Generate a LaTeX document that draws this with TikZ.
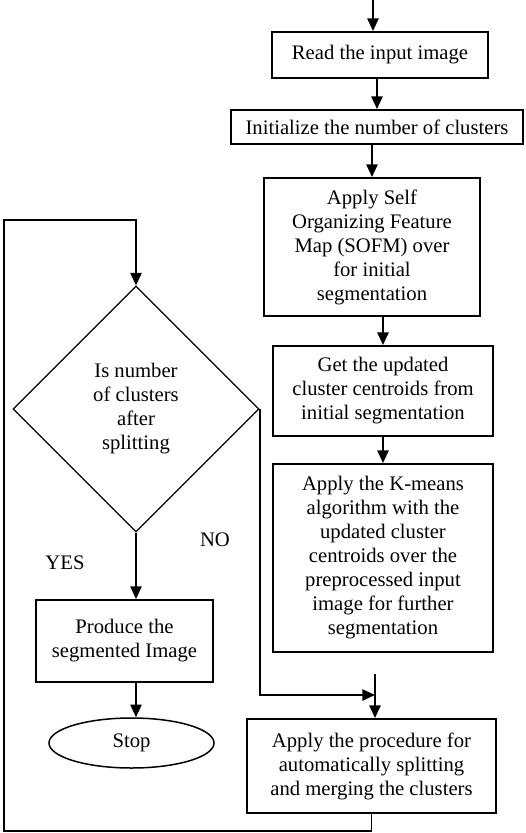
\documentclass[tikz,border=0pt]{standalone}
\usepackage{fontspec}
\setmainfont{Liberation Serif}
\usetikzlibrary{shapes.geometric,arrows.meta,positioning,calc}

\begin{document}
\begin{tikzpicture}[x=0.6pt, y=-0.6pt,
    font=\fontsize{12.4}{14.4}\selectfont,
    box/.style={rectangle, draw, line width=1.2pt, align=center, inner sep=2pt},
    decision/.style={diamond, draw, line width=0.7pt, align=center, inner sep=0pt, minimum width=147.6pt, minimum height=147.6pt},
    terminal/.style={ellipse, draw, line width=0.9pt, inner sep=0pt, minimum width=99pt, minimum height=30pt},
    arr/.style={line width=1.1pt, -{Triangle[length=7.6pt, width=6.8pt]}},
    lbl/.style={font=\fontsize{12.4}{14.4}\selectfont}]

    \useasboundingbox (0,0) rectangle (525,833);

    % Main column
    \node[box, minimum width=129.6pt, minimum height=27.6pt] (read) at (380,55) {Read the input image};
    \node[box, minimum width=175.2pt, minimum height=20.4pt] (init) at (377,127) {Initialize the number of clusters};
    \node[box, minimum width=129.6pt, minimum height=82.8pt] (sofm) at (372,247)
        {Apply Self\\Organizing Feature\\Map (SOFM) over\\for initial\\segmentation};
    \node[box, minimum width=132pt, minimum height=54pt] (getc) at (383,391)
        {Get the updated\\cluster centroids from\\initial segmentation};
    \node[box, minimum width=132pt, minimum height=112.8pt] (kmeans) at (383,558)
        {Apply the K-means\\algorithm with the\\updated cluster\\centroids over the\\preprocessed input\\image for further\\segmentation};
    \node[box, minimum width=149.4pt, minimum height=56.4pt] (proc) at (371.5,766)
        {Apply the procedure for\\automatically splitting\\and merging the clusters};

    % Left column
    \node[decision] (dec) at (136,409) {Is number\\of clusters\\after\\splitting};
    \node[box, minimum width=106.2pt, minimum height=49.2pt] (produce) at (124.5,641)
        {Produce the\\segmented Image};
    \node[terminal] (stop) at (131.5,743) {Stop};

    % Helper points
    \coordinate (start) at (373,0);
    \coordinate (kstub) at (375,674);
    \coordinate (nojoin) at (375,695);
    \coordinate (loopbl) at (4,831);
    \coordinate (looptl) at (4,220);

    % Connections
    \draw[arr] (start) -- (start |- read.north);
    \draw[arr] (read.south -| init.north) -- (init.north);
    \draw[arr] (init.south -| sofm.north) -- (sofm.north);
    \draw[arr] (sofm.south -| getc.north) -- (getc.north);
    \draw[arr] (getc.south) -- (kmeans.north);
    \draw[arr] (kstub) -- (kstub |- proc.north);
    \draw[arr] (dec.east) |- (nojoin);
    \draw[arr] (proc.south) |- (loopbl) -- (looptl) -| (dec.north);
    \draw[arr] (dec.south) -- (dec.south |- produce.north);
    \draw[arr] (produce.south -| dec.south) -- (stop.north -| dec.south);

    % Labels
    \node[lbl] (yes) at (65,563) {YES};
    \node[lbl] (no) at (215,540) {NO};
\end{tikzpicture}
\end{document}
